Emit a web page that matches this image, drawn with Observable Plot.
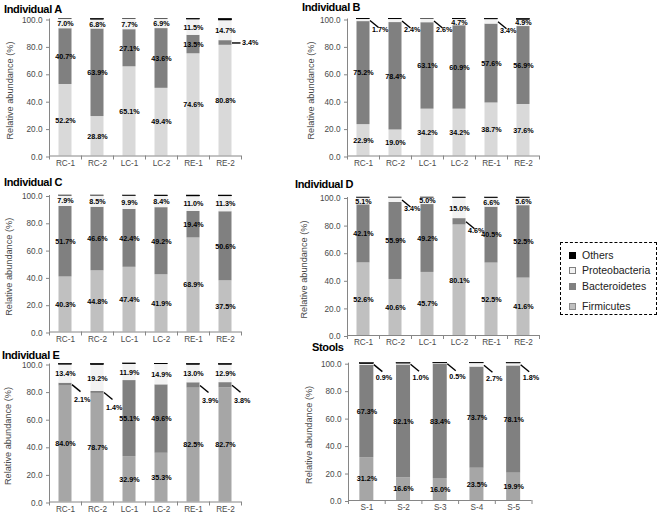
<!DOCTYPE html>
<html>
<head>
<meta charset="utf-8">
<script src="https://cdn.jsdelivr.net/npm/d3@7"></script>
<script src="https://cdn.jsdelivr.net/npm/@observablehq/plot@0.6"></script>
<style>
  body { margin: 0; background: #fff; }
  #fig { position: relative; width: 662px; height: 515px; overflow: hidden; font-family: 'Liberation Sans', Arial, sans-serif; background: #fff; }
  .panel { position: absolute; }
  .ptitle { position: absolute; font-weight: bold; font-size: 11px; line-height: 1; color: #000; letter-spacing: -0.35px; white-space: nowrap; }
  #legend { position: absolute; left: 560px; top: 242px; width: 95px; height: 71px; border: 1.5px dashed #000; }
  .li { position: absolute; left: 8px; font-size: 10.5px; line-height: 1; color: #222; white-space: nowrap; }
  .sw { display: inline-block; width: 7px; height: 7px; margin-right: 6px; vertical-align: 0px; box-sizing: border-box; }
</style>
</head>
<body>
<div id="fig"></div>
<script>
// ---------- data ----------
const series = ["Firmicutes", "Bacteroidetes", "Proteobacteria", "Others"];
const colonSites = ["RC-1", "RC-2", "LC-1", "LC-2", "RE-1", "RE-2"];
const stoolSamples = ["S-1", "S-2", "S-3", "S-4", "S-5"];
const yTicks = [0, 20, 40, 60, 80, 100];
const yTitle = "Relative abundance (%)";

const aFirmicutes     = [52.2, 28.8, 65.1, 49.4, 74.6, 80.8];
const aBacteroidetes  = [40.7, 63.9, 27.1, 43.6, 13.5, 3.4];
const aProteobacteria = [7.0, 6.8, 7.7, 6.9, 11.5, 14.7];
const aOthers         = [0.1, 0.5, 0.1, 0.1, 0.4, 1.1];

const bFirmicutes     = [22.9, 19.0, 34.2, 34.2, 38.7, 37.6];
const bBacteroidetes  = [75.2, 78.4, 63.1, 60.9, 57.6, 56.9];
const bProteobacteria = [1.7, 2.4, 2.6, 4.7, 3.4, 4.9];
const bOthers         = [0.2, 0.2, 0.1, 0.2, 0.3, 0.6];

const cFirmicutes     = [40.3, 44.8, 47.4, 41.9, 68.9, 37.5];
const cBacteroidetes  = [51.7, 46.6, 42.4, 49.2, 19.4, 50.6];
const cProteobacteria = [7.9, 8.5, 9.9, 8.4, 11.0, 11.3];
const cOthers         = [0.1, 0.1, 0.3, 0.5, 0.7, 0.6];

const dFirmicutes     = [52.6, 40.6, 45.7, 80.1, 52.5, 41.6];
const dBacteroidetes  = [42.1, 55.9, 49.2, 4.6, 40.5, 52.5];
const dProteobacteria = [5.1, 3.4, 5.0, 15.0, 6.6, 5.6];
const dOthers         = [0.2, 0.1, 0.1, 0.3, 0.4, 0.3];

const eFirmicutes     = [84.0, 78.7, 32.9, 35.3, 82.5, 82.7];
const eBacteroidetes  = [2.1, 1.4, 55.1, 49.6, 3.9, 3.8];
const eProteobacteria = [13.4, 19.2, 11.9, 14.9, 13.0, 12.9];
const eOthers         = [0.5, 0.7, 0.5, 0.2, 0.6, 0.6];

const sFirmicutes     = [31.2, 16.6, 16.0, 23.5, 19.9];
const sBacteroidetes  = [67.3, 82.1, 83.4, 73.7, 78.1];
const sProteobacteria = [0.9, 1.0, 0.5, 2.7, 1.8];
const sOthers         = [0.6, 0.3, 0.1, 0.1, 0.2];

// ---------- styling ----------
const FONT = "'Liberation Sans', Arial, sans-serif";
const BACT = "#808080", PROT = "#f2f2f2", OTH = "#000000", AXIS = "#868686", TXT = "#4a4a4a";

const fig = document.getElementById("fig");

function drawPanel(cfg) {
  const {title, titlePos, cats, values, firmColor, box, frame, hwPx, outside, labelDy, yTitleX} = cfg;
  const n = cats.length;
  const step = (frame.x1 - frame.x0) / n;
  const pxPerUnit = (frame.yBot - frame.yTop) / 100;
  const hw = hwPx / step;
  const lead = 8.5 / step;
  const drop = 7 / pxPerUnit;
  const tickLen = 4 / pxPerUnit;

  const rows = [];
  cats.forEach((c, i) => {
    let base = 0;
    series.forEach((s, k) => {
      const v = values[k][i];
      rows.push({i, cat: c, series: s, value: v, y1: base, y2: base + v});
      base += v;
    });
  });
  const kindOf = d => { const o = outside.find(o => o.series === d.series && o.i === d.i); return o ? o.kind : null; };
  const labeled = rows.filter(d => d.series !== "Others");
  const inside = labeled.filter(d => !kindOf(d));
  const diag = labeled.filter(d => kindOf(d) === "diag");
  const horiz = labeled.filter(d => kindOf(d) === "h");
  const mid = d => (d.y1 + d.y2) / 2;
  const fmt = d => d.value.toFixed(1) + "%";
  const bounds = d3.range(n + 1).map(k => k - 0.5);

  const svg = Plot.plot({
    width: box.width,
    height: box.height,
    marginLeft: frame.x0 - box.left,
    marginRight: box.left + box.width - frame.x1,
    marginTop: frame.yTop - box.top,
    marginBottom: box.top + box.height - frame.yBot,
    x: {type: "linear", domain: [-0.5, n - 0.5]},
    y: {type: "linear", domain: [0, 100]},
    color: {type: "ordinal", domain: series, range: [firmColor, BACT, PROT, OTH]},
    style: {fontFamily: FONT, fontSize: "8.2px", color: TXT, background: "none", overflow: "visible"},
    marks: [
      Plot.rect(rows, {x1: d => d.i - hw, x2: d => d.i + hw, y1: "y1", y2: "y2", fill: "series"}),
      Plot.rect(rows.filter(d => d.series === "Others"), {x1: d => d.i - hw, x2: d => d.i + hw, y1: "y1", y2: "y2", fill: OTH, stroke: OTH, strokeWidth: 0.5}),
      Plot.ruleY([0], {stroke: AXIS}),
      Plot.ruleX([-0.5], {y1: 0, y2: 100, stroke: AXIS}),
      Plot.ruleX(bounds, {y1: 0, y2: -tickLen, stroke: AXIS}),
      Plot.axisY({ticks: yTicks, tickFormat: d3.format(".1f"), tickSize: 3, tickPadding: 4, label: null, stroke: AXIS, fill: TXT, dy: 1}),
      Plot.axisX({ticks: d3.range(n), tickFormat: i => cats[i], tickSize: 0, tickPadding: 4, label: null, fill: TXT}),
      Plot.text([yTitle], {text: d => d, frameAnchor: "left", textAnchor: "middle", rotate: -90, dx: yTitleX - frame.x0, dy: 3, fontSize: 9.2, fill: TXT}),
      Plot.text(inside, {x: "i", y: mid, text: fmt, fontSize: 7.2, fontWeight: "bold", fill: "#000"}),
      Plot.link(diag, {x1: d => d.i + hw, y1: mid, x2: d => d.i + hw + lead, y2: d => mid(d) - drop, stroke: "#000", strokeWidth: 1.4}),
      Plot.text(diag, {x: d => d.i + hw, y: mid, dx: 2, dy: labelDy, textAnchor: "start", text: fmt, fontSize: 7.2, fontWeight: "bold", fill: "#000"}),
      Plot.link(horiz, {x1: d => d.i + hw, y1: mid, x2: d => d.i + hw + lead, y2: mid, stroke: "#000", strokeWidth: 1.4}),
      Plot.text(horiz, {x: d => d.i + hw + lead, y: mid, dx: 1.5, textAnchor: "start", text: fmt, fontSize: 7.2, fontWeight: "bold", fill: "#000"})
    ]
  });
  const wrap = document.createElement("div");
  wrap.className = "panel";
  wrap.style.left = box.left + "px";
  wrap.style.top = box.top + "px";
  wrap.appendChild(svg);
  fig.appendChild(wrap);

  const t = document.createElement("div");
  t.className = "ptitle";
  t.textContent = title;
  t.style.left = titlePos[0] + "px";
  t.style.top = titlePos[1] + "px";
  fig.appendChild(t);
}

drawPanel({
  title: "Individual A", titlePos: [4, 4], cats: colonSites,
  values: [aFirmicutes, aBacteroidetes, aProteobacteria, aOthers], firmColor: "#d9d9d9",
  box: {left: 0, top: 0, width: 262, height: 172}, frame: {x0: 49, x1: 241, yTop: 18.5, yBot: 155.5},
  hwPx: 6.5, labelDy: 9, yTitleX: 10,
  outside: [{series: "Bacteroidetes", i: 5, kind: "h"}]
});
drawPanel({
  title: "Individual B", titlePos: [302, 2], cats: colonSites,
  values: [bFirmicutes, bBacteroidetes, bProteobacteria, bOthers], firmColor: "#d9d9d9",
  box: {left: 290, top: 0, width: 262, height: 172}, frame: {x0: 347, x1: 539, yTop: 18.5, yBot: 155.5},
  hwPx: 6.5, labelDy: 9, yTitleX: 311,
  outside: [0, 1, 2, 4].map(i => ({series: "Proteobacteria", i, kind: "diag"}))
});
drawPanel({
  title: "Individual C", titlePos: [4, 177], cats: colonSites,
  values: [cFirmicutes, cBacteroidetes, cProteobacteria, cOthers], firmColor: "#c0c0c0",
  box: {left: 0, top: 172, width: 262, height: 178}, frame: {x0: 49, x1: 241, yTop: 195, yBot: 331.5},
  hwPx: 6.5, labelDy: 9, yTitleX: 9,
  outside: []
});
drawPanel({
  title: "Individual D", titlePos: [295, 179], cats: colonSites,
  values: [dFirmicutes, dBacteroidetes, dProteobacteria, dOthers], firmColor: "#c0c0c0",
  box: {left: 290, top: 172, width: 262, height: 178}, frame: {x0: 347, x1: 539, yTop: 197, yBot: 335},
  hwPx: 6.5, labelDy: 9, yTitleX: 304,
  outside: [{series: "Proteobacteria", i: 1, kind: "diag"}, {series: "Bacteroidetes", i: 3, kind: "diag"}]
});
drawPanel({
  title: "Individual E", titlePos: [2, 350], cats: colonSites,
  values: [eFirmicutes, eBacteroidetes, eProteobacteria, eOthers], firmColor: "#a6a6a6",
  box: {left: 0, top: 350, width: 262, height: 165}, frame: {x0: 49, x1: 241, yTop: 363.5, yBot: 501.5},
  hwPx: 6.5, labelDy: 15, yTitleX: 8,
  outside: [0, 1, 4, 5].map(i => ({series: "Bacteroidetes", i, kind: "diag"}))
});
drawPanel({
  title: "Stools", titlePos: [312, 342], cats: stoolSamples,
  values: [sFirmicutes, sBacteroidetes, sProteobacteria, sOthers], firmColor: "#a6a6a6",
  box: {left: 290, top: 350, width: 262, height: 165}, frame: {x0: 348, x1: 531.5, yTop: 362.7, yBot: 500},
  hwPx: 7, labelDy: 13, yTitleX: 309,
  outside: [0, 1, 2, 3, 4].map(i => ({series: "Proteobacteria", i, kind: "diag"}))
});

// ---------- legend ----------
const legendItems = [
  {name: "Others", fill: "#000", border: "#000", top: 7},
  {name: "Proteobacteria", fill: "#f2f2f2", border: "#7f7f7f", top: 22},
  {name: "Bacteroidetes", fill: "#808080", border: "#808080", top: 37.5},
  {name: "Firmicutes", fill: "#c0c0c0", border: "#8c8c8c", top: 57.5}
];
const legend = document.createElement("div");
legend.id = "legend";
legendItems.forEach(it => {
  const li = document.createElement("div");
  li.className = "li";
  li.style.top = it.top + "px";
  const sw = document.createElement("span");
  sw.className = "sw";
  sw.style.background = it.fill;
  sw.style.border = "1px solid " + it.border;
  li.appendChild(sw);
  li.appendChild(document.createTextNode(it.name));
  legend.appendChild(li);
});
fig.appendChild(legend);
</script>
</body>
</html>
